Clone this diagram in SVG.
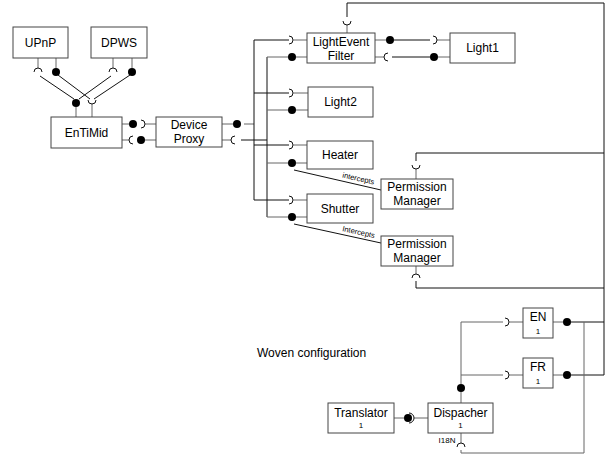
<svg xmlns="http://www.w3.org/2000/svg" width="605" height="458" viewBox="0 0 605 458">
<style>
.box{fill:#fff;stroke:#444;stroke-width:1}
.t{font-family:"Liberation Sans",Arial,sans-serif;font-size:12px;fill:#000;text-anchor:middle}
.s{font-family:"Liberation Sans",Arial,sans-serif;font-size:8px;fill:#000;text-anchor:middle}
.lab{font-family:"Liberation Sans",Arial,sans-serif;font-size:7.5px;fill:#000}
.w{font-family:"Liberation Sans",Arial,sans-serif;font-size:12px;fill:#000}
.c{fill:none;stroke:#111;stroke-width:1}
.g{fill:none;stroke:#666;stroke-width:1}
.k{fill:none;stroke:#111;stroke-width:1}
.b{fill:#000}
</style>
<rect width="605" height="458" fill="#fff"/>
<g id="connectors">
<path class="g" d="M38 58V68M56 58V68M113 58V68M132 58V68"/>
<path class="k" d="M34 72A4 4 0 0 1 42 72M109 72A4 4 0 0 1 117 72"/>
<circle class="b" cx="56" cy="72" r="4"/>
<circle class="b" cx="132" cy="72" r="4"/>
<path class="c" d="M40 76L74 99M58 75L90 99M111 76L79 99M130 75L94 99"/>
<circle class="b" cx="76" cy="103" r="4"/>
<path class="g" d="M76 107V117M92 104V117"/>
<path class="k" d="M88 100A4 4 0 0 0 96 100"/>
<path class="g" d="M122 124H129M122 140H129M145 124H156M145 140H156"/>
<circle class="b" cx="133" cy="124" r="4"/>
<path class="k" d="M133 136A4 4 0 0 0 133 144"/>
<path class="k" d="M141 120A4 4 0 0 1 141 128"/>
<circle class="b" cx="141" cy="140" r="4"/>
<path class="g" d="M222 124H233M222 140H231"/>
<circle class="b" cx="237" cy="124" r="4"/>
<path class="k" d="M235 136A4 4 0 0 0 235 144"/>
<path class="g" d="M244 124H254"/>
<path class="c" d="M241 140H267"/>
<path class="c" d="M254 40V200"/>
<path class="c" d="M267 57V217"/>
<path class="c" d="M254 40H289M254 93H289M254 145H289M254 200H289"/>
<path class="g" d="M267 57H288M267 110H288M267 163H288M267 217H288"/>
<path class="k" d="M289 36A4 4 0 0 1 289 44M289 89A4 4 0 0 1 289 97M289 141A4 4 0 0 1 289 149M289 196A4 4 0 0 1 289 204"/>
<path class="g" d="M293 40H307M293 93H308M293 145H307M293 200H307M296 57H307M296 110H308M296 163H307M296 217H307"/>
<circle class="b" cx="292" cy="57" r="4"/>
<circle class="b" cx="292" cy="110" r="4"/>
<circle class="b" cx="292" cy="163" r="4"/>
<circle class="b" cx="292" cy="217" r="4"/>
<path class="g" d="M375 40H386M375 57H384M437 40H450M438 57H450"/>
<circle class="b" cx="390" cy="40" r="4"/>
<path class="c" d="M394 40H430"/>
<path class="k" d="M433 36A4 4 0 0 1 433 44"/>
<path class="k" d="M388 53A4 4 0 0 0 388 61"/>
<path class="c" d="M392 57H430"/>
<circle class="b" cx="434" cy="57" r="4"/>
<path class="g" d="M347 33V25"/>
<path class="k" d="M343 21A4 4 0 0 0 351 21"/>
<path class="c" d="M347 17V3H604V375"/>
<path class="g" d="M416 179V169"/>
<path class="k" d="M412 165A4 4 0 0 0 420 165"/>
<path class="c" d="M416 161V153H604"/>
<path class="g" d="M416 266V274"/>
<path class="k" d="M412 278A4 4 0 0 1 420 278"/>
<path class="c" d="M416 281V288H604"/>
<path class="c" d="M294 170L381 190M294 224L381 243"/>
<text class="lab" transform="translate(342 177.5) rotate(12.5)">intercepts</text>
<text class="lab" transform="translate(342 231) rotate(12.5)">Intercepts</text>
<path class="g" d="M461 322H503M461 322V384M461 375H503"/>
<path class="k" d="M505 318A4 4 0 0 1 505 326M505 371A4 4 0 0 1 505 379"/>
<path class="g" d="M509 322H523M509 375H523M553 322H563M553 375H563"/>
<circle class="b" cx="567" cy="322" r="4"/>
<circle class="b" cx="567" cy="375" r="4"/>
<path class="c" d="M571 322H604M571 375H604"/>
<path class="g" d="M584 322V453H461V450"/>
<circle class="b" cx="461" cy="388" r="4"/>
<path class="g" d="M461 392V403"/>
<path class="g" d="M461 433V443"/>
<path class="k" d="M457 447A4 4 0 0 1 465 447"/>
<path class="g" d="M394 418H404M414 418H428"/>
<circle class="b" cx="408" cy="418" r="4"/>
<path class="k" d="M409 413A5 5 0 0 1 409 423"/>
</g>
<g id="UPnP"><rect class="box" x="13" y="27" width="55" height="31"/><text class="t" x="40.5" y="47">UPnP</text></g>
<g id="DPWS"><rect class="box" x="91" y="27" width="56" height="31"/><text class="t" x="119" y="47">DPWS</text></g>
<g id="EnTiMid"><rect class="box" x="51" y="117" width="71" height="31"/><text class="t" x="86.5" y="137">EnTiMid</text></g>
<g id="DeviceProxy"><rect class="box" x="156" y="117" width="66" height="30"/><text class="t" x="189" y="129">Device</text><text class="t" x="189" y="143">Proxy</text></g>
<g id="LightEventFilter"><rect class="box" x="307" y="33" width="68" height="30"/><text class="t" x="341" y="46">LightEvent</text><text class="t" x="341" y="60">Filter</text></g>
<g id="Light1"><rect class="box" x="450" y="33" width="65" height="30"/><text class="t" x="482.5" y="52">Light1</text></g>
<g id="Light2"><rect class="box" x="308" y="87" width="65" height="30"/><text class="t" x="340.5" y="106">Light2</text></g>
<g id="Heater"><rect class="box" x="307" y="141" width="66" height="28"/><text class="t" x="340" y="159">Heater</text></g>
<g id="Shutter"><rect class="box" x="307" y="194" width="66" height="29"/><text class="t" x="340" y="213">Shutter</text></g>
<g id="PermissionManager1"><rect class="box" x="381" y="179" width="72" height="30"/><text class="t" x="417" y="191">Permission</text><text class="t" x="417" y="205">Manager</text></g>
<g id="PermissionManager2"><rect class="box" x="381" y="236" width="72" height="30"/><text class="t" x="417" y="248">Permission</text><text class="t" x="417" y="262">Manager</text></g>
<g id="EN"><rect class="box" x="523" y="308" width="30" height="30"/><text class="t" x="538" y="321">EN</text><text class="s" x="538" y="334">1</text></g>
<g id="FR"><rect class="box" x="523" y="358" width="30" height="30"/><text class="t" x="538" y="371">FR</text><text class="s" x="538" y="384">1</text></g>
<g id="Translator"><rect class="box" x="328" y="403" width="66" height="30"/><text class="t" x="361" y="417">Translator</text><text class="s" x="361" y="428">1</text></g>
<g id="Dispatcher"><rect class="box" x="428" y="403" width="65" height="30"/><text class="t" x="460.5" y="417">Dispacher</text><text class="s" x="460.5" y="428">1</text><text class="s" x="447" y="443">I18N</text></g>
<text class="w" x="257" y="357">Woven configuration</text>
</svg>
